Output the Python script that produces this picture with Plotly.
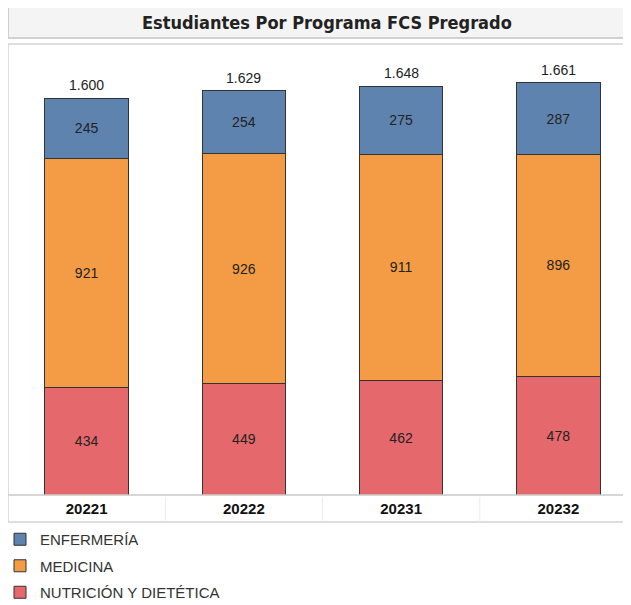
import plotly.graph_objects as go

periodos = ["20221", "20222", "20231", "20232"]
nutricion = [434, 449, 462, 478]
medicina = [921, 926, 911, 896]
enfermeria = [245, 254, 275, 287]
totales = [a + b + c for a, b, c in zip(nutricion, medicina, enfermeria)]

series = [
    ("NUTRICIÓN Y DIETÉTICA", nutricion, "#e5686c", 3),
    ("MEDICINA", medicina, "#f39c45", 2),
    ("ENFERMERÍA", enfermeria, "#5e83ae", 1),
]

OFF = 8  # browser body margin
W, H = 631 - OFF, 605 - OFF
L, T, B = 8 - OFF, 44 - OFF, 495 - OFF  # plot area pixels in figure coords

fig = go.Figure()
for name, vals, col, rank in series:
    fig.add_trace(go.Bar(
        x=periodos, y=vals, name=name, legendgroup=name, legendrank=rank,
        marker=dict(color=col, line=dict(color="#333333", width=1)),
        width=0.53,
        text=[str(v) for v in vals], textposition="inside",
        insidetextanchor="middle",
        textfont=dict(family="Liberation Sans, Arial", size=14, color="#222222"),
        hoverinfo="skip",
    ))

def py(pix):
    return (B - (pix - OFF)) / (B - T)

def px(pix):
    return ((pix - OFF) - L) / (W - L)

shapes = [
    dict(type="rect", xref="paper", yref="paper", x0=0, x1=1.05, y0=py(38), y1=py(7),
         fillcolor="#f4f4f4", line=dict(color="#c4c4c4", width=1.5), layer="below"),
    dict(type="rect", xref="paper", yref="paper", x0=0, x1=1.05, y0=py(522), y1=py(44),
         fillcolor="rgba(0,0,0,0)", line=dict(color="#d4d4d4", width=1.5), layer="below"),
    dict(type="line", xref="paper", yref="paper", x0=0, x1=1.05, y0=0, y1=0,
         line=dict(color="#c8c8c8", width=1.5)),
]
for b in [0.5, 1.5, 2.5]:
    shapes.append(dict(type="line", xref="x", yref="paper", x0=b, x1=b, y0=py(522), y1=py(497),
                       line=dict(color="#ececec", width=1)))

annotations = [dict(text="<b>Estudiantes Por Programa FCS Pregrado</b>",
                    xref="paper", yref="paper", x=px(327), y=py(22.5),
                    xanchor="center", yanchor="middle", showarrow=False,
                    font=dict(family="DejaVu Sans Condensed, DejaVu Sans", size=18,
                              color="#222222"))]
for i, t in enumerate(totales):
    annotations.append(dict(text=f"{t:,}".replace(",", "."), x=i, y=t, xref="x", yref="y",
                            yanchor="bottom", yshift=3, showarrow=False,
                            font=dict(family="Liberation Sans, Arial", size=14, color="#222222")))

fig.update_layout(
    width=W, height=H,
    margin=dict(l=L, r=0, t=T, b=H - B, pad=0, autoexpand=False),
    barmode="stack",
    plot_bgcolor="white", paper_bgcolor="white",
    separators=",.",
    xaxis=dict(type="category", range=[-0.5, -0.5 + (W - L) / 157.25], showgrid=False,
               zeroline=False, showline=False, ticks="", fixedrange=True,
               tickfont=dict(family="Liberation Sans Narrow, Liberation Sans, Arial", size=15,
                             color="#111111", weight="bold"),
               ticklabelstandoff=3),
    yaxis=dict(range=[0, 1818], visible=False, fixedrange=True),
    showlegend=True,
    legend=dict(orientation="v", traceorder="grouped", tracegroupgap=4,
                x=-8 / (W - L), xanchor="left", y=py(523), yanchor="top",
                font=dict(family="Liberation Sans Narrow, Liberation Sans, Arial", size=15,
                          color="#333333"),
                itemwidth=30, bgcolor="rgba(0,0,0,0)"),
    shapes=shapes,
    annotations=annotations,
)

fig.write_html("out.html")
